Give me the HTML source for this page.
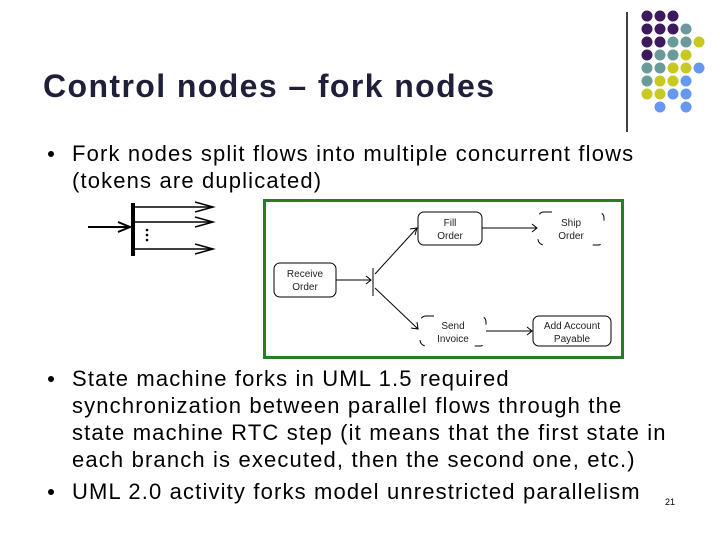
<!DOCTYPE html>
<html><head><style>
body{margin:0;width:720px;height:540px;background:#fff;position:relative;overflow:hidden;font-family:"Liberation Sans",sans-serif;color:#000}
.t{position:absolute;white-space:nowrap}
.b{position:absolute;width:6px;height:6px;border-radius:50%;background:#000;left:48px}
.tx{font-size:22px;line-height:27px;left:72px;letter-spacing:1.15px}
</style></head><body>
<svg width="720" height="540" style="position:absolute;left:0;top:0">
<line x1="627" y1="12" x2="627" y2="132" stroke="#000" stroke-width="1.5"/>
<g id="dots"></g>
<g stroke="#000" fill="none">
<line x1="88" y1="227" x2="130" y2="227" stroke-width="2"/>
<polyline points="118,222 130,227 118,232" stroke-width="2"/>
<line x1="133" y1="203" x2="133" y2="256" stroke-width="4"/>
<line x1="135" y1="207" x2="213" y2="207" stroke-width="1.5"/>
<polyline points="195,202 213,207 195,212" stroke-width="1.5"/>
<line x1="135" y1="222" x2="213" y2="222" stroke-width="1.5"/>
<polyline points="195,217 213,222 195,227" stroke-width="1.5"/>
<line x1="135" y1="249" x2="213" y2="249" stroke-width="1.5"/>
<polyline points="195,244 213,249 195,254" stroke-width="1.5"/>
</g>
<circle cx="147" cy="230" r="1.3"/><circle cx="147" cy="235" r="1.3"/><circle cx="147" cy="240" r="1.3"/>
<rect x="264.5" y="200.5" width="358" height="157" fill="none" stroke="#2a7a2a" stroke-width="3"/>
<g stroke="#000" fill="none" stroke-width="1">
<rect x="274" y="263" width="62" height="34" rx="6"/>
<rect x="418" y="212" width="64" height="33" rx="6"/>
<rect x="538" y="212" width="66" height="33" rx="6" stroke-dasharray="8 50 8 25"/>
<rect x="420" y="316" width="66" height="30" rx="6" stroke-dasharray="8 50 8 22"/>
<rect x="533" y="316" width="78" height="30" rx="6"/>
<line x1="336" y1="280" x2="371" y2="280"/><polyline points="366,276 371,280 366,284"/>
<line x1="373" y1="268" x2="373" y2="296"/>
<line x1="375" y1="274" x2="417" y2="228"/><polyline points="410,229 417,228 415,235"/>
<line x1="375" y1="288" x2="418" y2="329"/><polyline points="411,328 418,329 417,322"/>
<line x1="482" y1="228" x2="537" y2="228"/><polyline points="532,224 537,228 532,232"/>
<line x1="486" y1="331" x2="532" y2="331"/><polyline points="527,327 532,331 527,335"/>
</g>
<g font-family="Liberation Sans,sans-serif" font-size="10" fill="#222" text-anchor="middle">
<text x="305" y="277">Receive</text><text x="305" y="290">Order</text>
<text x="450" y="226">Fill</text><text x="450" y="239">Order</text>
<text x="571" y="226">Ship</text><text x="571" y="239">Order</text>
<text x="453" y="329">Send</text><text x="453" y="342">Invoice</text>
<text x="572" y="329">Add Account</text><text x="572" y="342">Payable</text>
</g>
</svg>
<script>
var P="#3d1a5e",T="#6b9a9a",Y="#c8c822",B="#6699ee",_=null;
var g=[[P,P,P],[P,P,P,T],[P,P,T,T,Y],[P,T,T,Y],[T,T,Y,Y,B],[T,Y,Y,B],[Y,Y,B,B],[_,B,_,B]];
var s="";g.forEach(function(r,i){r.forEach(function(c,j){if(c)s+='<circle cx="'+(647+13*j)+'" cy="'+(16+13*i)+'" r="5.5" fill="'+c+'"/>';});});
document.getElementById("dots").innerHTML=s;
</script>
<div class="t" style="left:43px;top:68px;font-size:32px;font-weight:bold;color:#1f1f3a;letter-spacing:1.4px">Control nodes – fork nodes</div>
<div class="b" style="top:151px"></div>
<div class="t tx" style="top:140px">Fork nodes split flows into multiple concurrent flows<br>(tokens are duplicated)</div>
<div class="b" style="top:376px"></div>
<div class="t tx" style="top:365px">State machine forks in UML 1.5 required<br>synchronization between parallel flows through the<br>state machine RTC step (it means that the first state in<br>each branch is executed, then the second one, etc.)</div>
<div class="b" style="top:489px"></div>
<div class="t tx" style="top:478px">UML 2.0 activity forks model unrestricted parallelism</div>
<div class="t" style="left:665px;top:497px;font-size:9px">21</div>
</body></html>
